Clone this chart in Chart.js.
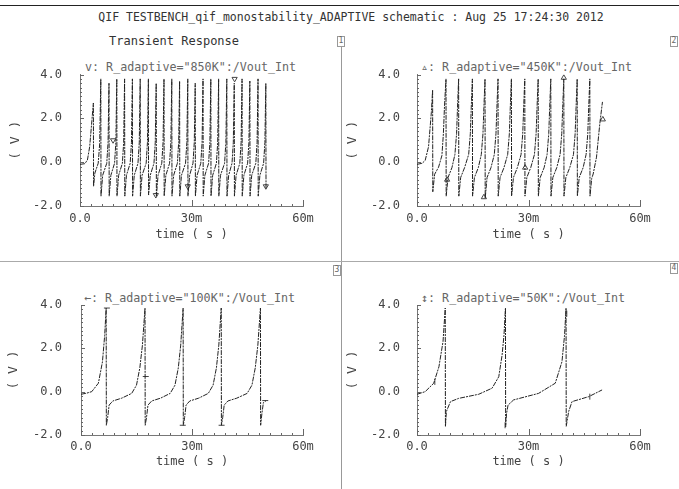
<!DOCTYPE html>
<html>
<head>
<meta charset="utf-8">
<script src="https://cdn.jsdelivr.net/npm/chart.js@4.4.1/dist/chart.umd.min.js"></script>
<style>
  html, body { margin: 0; padding: 0; background: #fff; }
  body { width: 679px; height: 489px; position: relative; overflow: hidden; font-family: "DejaVu Sans Mono", monospace; }
  .abs { position: absolute; white-space: pre; }
  canvas { position: absolute; }
  .hl { position: absolute; height: 0; }
  .vl { position: absolute; width: 0; }
  .box { position: absolute; border: 1px solid #999; color: #666; font-size: 8px; line-height: 8px; text-align: center; width: 6px; height: 9px; }
  .leg { position: absolute; white-space: pre; font-size: 11.7px; line-height: 14px; color: #666; }
</style>
</head>
<body>
<div class="hl" style="left:0;top:5px;width:679px;border-top:1px solid #222;"></div>
<div class="abs" id="mainTitle" style="left:0;width:702px;text-align:center;top:10px;font-size:11.5px;line-height:14px;color:#333;"></div>
<div class="abs" id="subTitle" style="left:109px;top:34px;font-size:12px;line-height:14px;color:#333;"></div>
<div class="vl" style="left:341px;top:47px;height:442px;border-left:1px solid #999;"></div>
<div class="hl" style="left:0;top:261px;width:679px;border-top:1px solid #aaa;"></div>
<div class="box" style="left:337px;top:36px;">1</div>
<div class="box" style="left:670px;top:36px;">2</div>
<div class="box" style="left:333px;top:265px;">3</div>
<div class="box" style="left:670px;top:263px;">4</div>
<div class="leg" id="leg1" style="left:85px;top:60px;"></div>
<div class="leg" id="leg2" style="left:421px;top:60px;"></div>
<div class="leg" id="leg3" style="left:84px;top:291px;"></div>
<div class="leg" id="leg4" style="left:421px;top:291px;"></div>

<canvas id="c1" width="340" height="200" style="left:0;top:60px;"></canvas>
<canvas id="c2" width="339" height="200" style="left:340px;top:60px;"></canvas>
<canvas id="c3" width="340" height="200" style="left:0;top:288px;"></canvas>
<canvas id="c4" width="339" height="200" style="left:340px;top:288px;"></canvas>

<script>
// ---------------- text ----------------
const mainTitle = 'QIF TESTBENCH_qif_monostability_ADAPTIVE schematic : Aug 25 17:24:30 2012';
const subTitle = 'Transient Response';
const legendLabels = [
  'v: R_adaptive="850K":/Vout_Int',
  '\u25B5: R_adaptive="450K":/Vout_Int',
  '\u2190: R_adaptive="100K":/Vout_Int',
  '\u2195: R_adaptive="50K":/Vout_Int'
];
const xTitle = 'time ( s )';
const yTitle = '( V )';

// ---------------- axes / ticks ----------------
const xMin = 0, xMax = 60, xLabelStep = 30;        // ms
const yMin = -2, yMax = 4, yLabelStep = 2;         // V
const xMinorTicks = [0,3,6,9,12,15,18,21,24,27,30,33,36,39,42,45,48,51,54,57,60];
const xMajorTicks = [0,30,60];
const yMinorTicks = [-2,-1.8,-1.6,-1.4,-1.2,-1,-0.8,-0.6,-0.4,-0.2,0,0.2,0.4,0.6,0.8,1,1.2,1.4,1.6,1.8,2,2.2,2.4,2.6,2.8,3,3.2,3.4,3.6,3.8,4];
const yMajorTicks = [-2,0,2,4];

// ---------------- data: [time (ms), Vout (V)] ----------------
const vout850K = [
  [0,-0.1],[1.3,-0.07],[2.0,0.1],[2.6,0.7],[3.2,1.9],[3.6,2.7],
  [3.65,-1.1],[4.0,-0.5],[4.9,-0.05],[5.3,0.85],[5.6,3.8],
  [5.65,-1.55],[6.1,-0.6],[7.2,-0.05],[7.55,0.9],[7.8,3.6],
  [7.85,-1.55],[8.3,-0.6],[9.3,-0.05],[9.65,0.9],[9.9,3.8],
  [9.95,-1.55],[10.4,-0.6],[11.4,-0.05],[11.75,0.9],[12.0,3.8],
  [12.05,-1.55],[12.5,-0.6],[13.5,-0.05],[13.85,0.9],[14.1,3.8],
  [14.15,-1.55],[14.6,-0.6],[15.6,-0.05],[15.95,0.9],[16.2,3.8],
  [16.25,-1.55],[16.7,-0.6],[17.8,-0.05],[18.15,0.9],[18.4,3.8],
  [18.45,-1.5],[18.9,-0.6],[19.9,-0.05],[20.25,0.9],[20.5,3.6],
  [20.55,-1.55],[21.0,-0.6],[22.0,-0.05],[22.35,0.9],[22.6,3.8],
  [22.65,-1.55],[23.1,-0.6],[24.1,-0.05],[24.45,0.9],[24.7,3.8],
  [24.75,-1.55],[25.2,-0.6],[26.2,-0.05],[26.55,0.9],[26.8,3.7],
  [26.85,-1.55],[27.3,-0.6],[28.4,-0.05],[28.75,0.9],[29.0,3.8],
  [29.05,-1.55],[29.5,-0.6],[30.4,-0.05],[30.75,0.9],[31.0,3.6],
  [31.05,-1.55],[31.5,-0.6],[32.5,-0.05],[32.85,0.9],[33.1,3.8],
  [33.15,-1.55],[33.6,-0.6],[34.6,-0.05],[34.95,0.9],[35.2,3.8],
  [35.25,-1.55],[35.7,-0.6],[36.7,-0.05],[37.05,0.9],[37.3,3.8],
  [37.35,-1.55],[37.8,-0.6],[38.9,-0.05],[39.25,0.9],[39.5,3.8],
  [39.55,-1.55],[40.0,-0.6],[40.9,-0.05],[41.25,0.9],[41.5,3.6],
  [41.55,-1.55],[42.0,-0.6],[43.0,-0.05],[43.35,0.9],[43.6,3.8],
  [43.65,-1.55],[44.1,-0.6],[45.1,-0.05],[45.45,0.9],[45.7,3.7],
  [45.75,-1.55],[46.2,-0.6],[47.3,-0.05],[47.65,0.9],[47.9,3.8],
  [47.95,-1.55],[48.4,-0.6],[49.4,-0.05],[49.75,0.9],[50.0,3.6],
  [50.05,-1.2]
];
const vout450K = [
  [0,-0.1],[1.4,-0.05],[2.2,0.08],[3.1,0.7],[3.85,2.25],[4.2,3.3],
  [4.25,-1.35],[4.75,-0.55],[5.8,-0.23],[6.7,0.3],[7.1,1.3],[7.4,2.55],[7.8,3.8],
  [7.85,-1.55],[8.35,-0.7],[9.4,-0.25],[10.2,0.35],[10.65,1.3],[10.9,2.5],[11.2,3.8],
  [11.25,-1.55],[11.75,-0.7],[12.8,-0.25],[13.9,0.35],[14.35,1.3],[14.6,2.5],[14.9,3.8],
  [14.95,-1.55],[15.45,-0.7],[16.5,-0.25],[17.3,0.35],[17.75,1.3],[18.0,2.5],[18.3,3.8],
  [18.35,-1.65],[18.85,-0.7],[19.9,-0.25],[20.8,0.35],[21.25,1.3],[21.5,2.5],[21.8,3.8],
  [21.85,-1.55],[22.35,-0.7],[23.4,-0.25],[24.4,0.35],[24.85,1.3],[25.1,2.5],[25.4,3.8],
  [25.45,-1.55],[25.95,-0.7],[27.0,-0.25],[28.0,0.35],[28.45,1.3],[28.7,2.5],[29.0,3.8],
  [29.05,-1.55],[29.55,-0.7],[30.6,-0.25],[31.6,0.35],[32.05,1.3],[32.3,2.5],[32.6,3.8],
  [32.65,-1.55],[33.15,-0.7],[34.2,-0.25],[35.0,0.35],[35.45,1.3],[35.7,2.5],[36.0,3.8],
  [36.05,-1.55],[36.55,-0.7],[37.6,-0.25],[38.5,0.35],[38.95,1.3],[39.2,2.5],[39.5,3.8],
  [39.55,-1.55],[40.05,-0.7],[41.1,-0.25],[42.1,0.35],[42.55,1.3],[42.8,2.5],[43.1,3.8],
  [43.15,-1.55],[43.65,-0.7],[44.7,-0.25],[45.5,0.35],[45.95,1.3],[46.2,2.5],[46.5,3.8],
  [46.55,-1.55],[47.0,-0.75],[47.4,-0.54],[48.3,0.23],[49.2,1.78],[49.9,2.75]
];
const vout100K = [
  [0,-0.12],[1.5,-0.07],[2.9,0.0],[4.7,0.39],[5.8,1.38],[6.4,2.6],[6.8,3.86],
  [6.85,-1.55],[7.2,-1.2],[7.6,-0.62],[8.6,-0.43],[11.0,-0.3],[13.7,-0.08],[15.0,0.3],[15.9,1.1],[16.6,2.15],[17.3,3.86],
  [17.35,-1.55],[17.7,-1.2],[18.1,-0.62],[19.1,-0.43],[21.5,-0.3],[24.1,-0.08],[25.4,0.3],[26.3,1.1],[26.95,2.15],[27.6,3.86],
  [27.65,-1.55],[28.0,-1.2],[28.4,-0.62],[29.4,-0.43],[31.8,-0.3],[34.4,-0.08],[35.7,0.3],[36.6,1.1],[37.25,2.15],[37.9,3.86],
  [37.95,-1.55],[38.3,-1.2],[38.7,-0.62],[39.7,-0.43],[42.1,-0.3],[44.9,-0.08],[46.2,0.3],[47.1,1.1],[47.8,2.15],[48.5,3.86],
  [48.55,-1.55],[48.9,-1.0],[49.3,-0.5],[50.0,-0.42]
];
const vout50K = [
  [0,-0.12],[2.2,0.0],[4.5,0.39],[5.9,1.15],[7.0,2.31],[7.6,3.86],
  [7.65,-1.62],[7.9,-0.92],[9.0,-0.46],[11.2,-0.31],[16.6,-0.12],[20.2,0.16],[22.0,0.69],[22.9,1.69],[23.4,2.6],[23.8,3.86],
  [23.85,-1.62],[24.1,-1.0],[24.5,-0.62],[26.0,-0.38],[32.7,-0.08],[37.2,0.39],[39.0,1.38],[39.7,2.6],[40.1,3.86],
  [40.15,-1.6],[40.8,-0.92],[41.7,-0.46],[46.2,-0.23],[49.8,0.08]
];
// symbol markers placed along each trace
const marks850K = [[8.9,1.0],[20.4,-1.5],[29.0,-1.1],[41.6,3.8],[50.0,-1.1]];
const marks450K = [[8.1,-0.8],[18.0,-1.6],[29.1,-0.25],[39.5,3.85],[50.0,1.95]];
const marks100K = [[7.0,3.86],[17.5,0.7],[27.5,-1.55],[38.0,-1.55],[49.8,-0.41]];
const marks50K  = [[4.8,0.45],[23.7,-1.55],[40.3,3.6],[46.5,-0.23]];

// ---------------- rendering ----------------
document.getElementById('mainTitle').textContent = mainTitle;
document.getElementById('subTitle').textContent = subTitle;
legendLabels.forEach((t, i) => document.getElementById('leg' + (i + 1)).textContent = t);

const FONT = 'DejaVu Sans Mono';
const inwardTicks = {
  id: 'inwardTicks',
  afterDraw(chart) {
    const {ctx, chartArea: a} = chart;
    const xs = chart.scales.x, ys = chart.scales.y;
    ctx.save();
    ctx.strokeStyle = '#666';
    ctx.lineWidth = 1;
    ctx.beginPath();
    xMinorTicks.forEach(t => {
      const px = Math.round(xs.getPixelForValue(t)) + 0.5;
      const len = xMajorTicks.includes(t) ? 6 : 2;
      ctx.moveTo(px, a.bottom); ctx.lineTo(px, a.bottom - len);
    });
    yMinorTicks.forEach(v => {
      const py = Math.round(ys.getPixelForValue(v)) + 0.5;
      const len = yMajorTicks.includes(v) ? 4 : 2;
      ctx.moveTo(a.left, py); ctx.lineTo(a.left + len, py);
    });
    ctx.stroke();
    ctx.restore();
  }
};

function makeChart(id, trace, marks, markStyle, markRot, geo) {
  new Chart(document.getElementById(id), {
    type: 'scatter',
    data: {
      datasets: [
        {
          data: trace.map(([x, y]) => ({x, y})),
          showLine: true,
          borderColor: '#222',
          borderWidth: 1,
          borderDash: [5, 1, 2, 1],
          pointRadius: 0,
          tension: 0
        },
        {
          data: marks.map(([x, y]) => ({x, y})),
          showLine: false,
          pointStyle: markStyle,
          rotation: markRot,
          pointRadius: 3,
          borderColor: '#444',
          backgroundColor: 'rgba(0,0,0,0)',
          borderWidth: 1
        }
      ]
    },
    options: {
      responsive: false,
      animation: false,
      events: [],
      layout: { padding: { top: geo.top, right: geo.right, left: 0, bottom: 0 } },
      plugins: { legend: { display: false }, tooltip: { enabled: false } },
      scales: {
        x: {
          type: 'linear', min: xMin, max: xMax,
          grid: { display: false, drawTicks: false },
          border: { display: true, color: '#777', width: 1 },
          ticks: {
            stepSize: xLabelStep, autoSkip: false, maxRotation: 0, padding: geo.xPad,
            color: '#444', font: { family: FONT, size: 12 },
            callback: v => v === 0 ? '0.0' : v + 'm'
          },
          title: { display: true, text: xTitle, color: '#444', font: { family: FONT, size: 12 }, padding: { top: 0, bottom: geo.xTitlePad } },
          afterFit: s => { s.height = geo.xh; }
        },
        y: {
          type: 'linear', min: yMin, max: yMax,
          grid: { display: false, drawTicks: false },
          border: { display: true, color: '#777', width: 1 },
          ticks: {
            stepSize: yLabelStep, autoSkip: false, padding: geo.yPad,
            color: '#444', font: { family: FONT, size: 12 },
            callback: v => v.toFixed(1)
          },
          title: { display: true, text: yTitle, color: '#444', font: { family: FONT, size: 13 }, padding: { top: geo.yTitlePad, bottom: 0 } },
          afterFit: s => { s.width = geo.yw; s.paddingTop = 0; s.paddingBottom = 0; }
        }
      }
    },
    plugins: [inwardTicks]
  });
}

makeChart('c1', vout850K, marks850K, 'triangle', 180, { top: 14.5, right: 37, yw: 80, xh: 54, xPad: 6, xTitlePad: 18, yPad: 18, yTitlePad: 8 });
makeChart('c2', vout450K, marks450K, 'triangle', 0,   { top: 14.5, right: 39, yw: 77, xh: 54, xPad: 6, xTitlePad: 18, yPad: 17, yTitlePad: 5 });
makeChart('c3', vout100K, marks100K, 'line', 0,       { top: 17, right: 37, yw: 81, xh: 53, xPad: 5, xTitlePad: 19, yPad: 19, yTitlePad: 6 });
makeChart('c4', vout50K,  marks50K,  'line', 90,      { top: 17, right: 39, yw: 77, xh: 53, xPad: 5, xTitlePad: 19, yPad: 17, yTitlePad: 5 });
</script>
</body>
</html>
